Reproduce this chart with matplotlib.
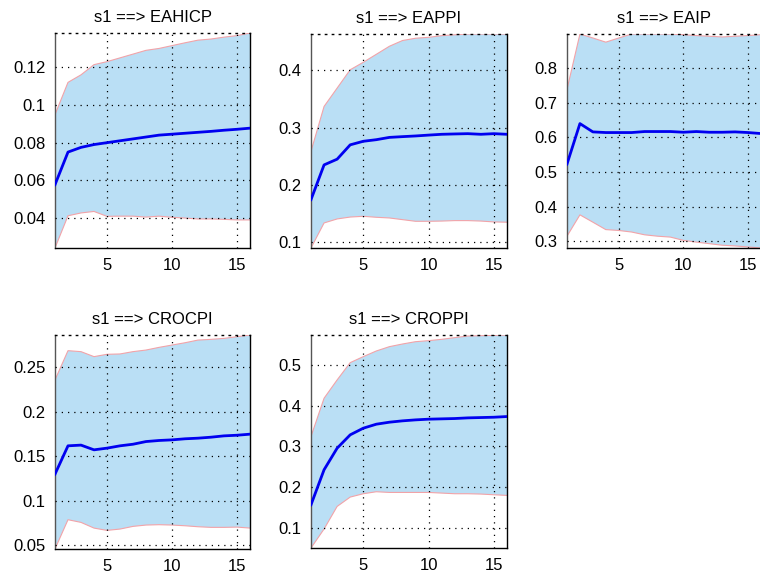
import matplotlib
matplotlib.use("Agg")
import matplotlib.pyplot as plt
from matplotlib.ticker import FormatStrFormatter
import numpy as np

plt.rcParams['font.family'] = ['Liberation Sans', 'DejaVu Sans']

horizons = list(range(1, 17))
titles = ["s1 ==> EAHICP", "s1 ==> EAPPI", "s1 ==> EAIP", "s1 ==> CROCPI", "s1 ==> CROPPI"]

eahicp_med = [0.0577, 0.0750, 0.0775, 0.0790, 0.0800, 0.0810, 0.0820, 0.0830, 0.0840, 0.0845,
              0.0850, 0.0855, 0.0860, 0.0866, 0.0871, 0.0877]
eahicp_up = [0.0949, 0.1120, 0.1160, 0.1214, 0.1230, 0.1250, 0.1270, 0.1290, 0.1300, 0.1315,
             0.1330, 0.1344, 0.1350, 0.1360, 0.1368, 0.1382]
eahicp_lo = [0.0241, 0.0412, 0.0427, 0.0435, 0.0409, 0.0410, 0.0410, 0.0405, 0.0410, 0.0404,
             0.0400, 0.0395, 0.0395, 0.0393, 0.0390, 0.0390]

eappi_med = [0.1744, 0.2350, 0.2450, 0.2700, 0.2762, 0.2790, 0.2830, 0.2843, 0.2855, 0.2870,
             0.2884, 0.2890, 0.2895, 0.2884, 0.2895, 0.2884]
eappi_up = [0.2587, 0.3370, 0.3690, 0.4010, 0.4140, 0.4280, 0.4420, 0.4520, 0.4560, 0.4576,
            0.4605, 0.4620, 0.4634, 0.4634, 0.4634, 0.4634]
eappi_lo = [0.0900, 0.1337, 0.1407, 0.1440, 0.1453, 0.1436, 0.1424, 0.1395, 0.1366, 0.1366,
            0.1370, 0.1378, 0.1378, 0.1370, 0.1355, 0.1350]

eaip_med = [0.5228, 0.6394, 0.6155, 0.6136, 0.6136, 0.6136, 0.6165, 0.6165, 0.6165, 0.6145,
            0.6165, 0.6145, 0.6145, 0.6155, 0.6136, 0.6107]
eaip_up = [0.7379, 0.8975, 0.8860, 0.8740, 0.8860, 0.8975, 0.8975, 0.8975, 0.8975, 0.8956,
           0.8930, 0.8910, 0.8890, 0.8910, 0.8930, 0.8956]
eaip_lo = [0.3150, 0.3765, 0.3554, 0.3340, 0.3315, 0.3270, 0.3190, 0.3150, 0.3124, 0.3030,
           0.2980, 0.2935, 0.2890, 0.2870, 0.2840, 0.2810]

crocpi_med = [0.1300, 0.1618, 0.1626, 0.1573, 0.1592, 0.1618, 0.1636, 0.1666, 0.1678, 0.1685,
              0.1697, 0.1704, 0.1715, 0.1730, 0.1737, 0.1749]
crocpi_up = [0.2358, 0.2687, 0.2676, 0.2620, 0.2646, 0.2650, 0.2676, 0.2694, 0.2724, 0.2750,
             0.2776, 0.2806, 0.2814, 0.2825, 0.2844, 0.2863]
crocpi_lo = [0.0459, 0.0788, 0.0758, 0.0694, 0.0668, 0.0683, 0.0713, 0.0728, 0.0732, 0.0728,
             0.0720, 0.0709, 0.0702, 0.0702, 0.0705, 0.0694]

croppi_med = [0.1570, 0.2429, 0.2959, 0.3286, 0.3449, 0.3547, 0.3596, 0.3629, 0.3653, 0.3670,
              0.3678, 0.3686, 0.3702, 0.3710, 0.3718, 0.3735]
croppi_up = [0.3245, 0.4184, 0.4633, 0.5057, 0.5204, 0.5343, 0.5449, 0.5514, 0.5571, 0.5596,
             0.5629, 0.5670, 0.5710, 0.5718, 0.5727, 0.5735]
croppi_lo = [0.0510, 0.0976, 0.1530, 0.1759, 0.1841, 0.1890, 0.1873, 0.1873, 0.1873, 0.1873,
             0.1857, 0.1841, 0.1841, 0.1833, 0.1816, 0.1800]

yticks = [
    [0.04, 0.06, 0.08, 0.10, 0.12],
    [0.1, 0.2, 0.3, 0.4],
    [0.3, 0.4, 0.5, 0.6, 0.7, 0.8],
    [0.05, 0.10, 0.15, 0.20, 0.25],
    [0.1, 0.2, 0.3, 0.4, 0.5],
]
xticks = [5, 10, 15]

series = [
    (eahicp_med, eahicp_up, eahicp_lo),
    (eappi_med, eappi_up, eappi_lo),
    (eaip_med, eaip_up, eaip_lo),
    (crocpi_med, crocpi_up, crocpi_lo),
    (croppi_med, croppi_up, croppi_lo),
]

W, H = 760, 579
# pixel boxes: left, right, top, bottom
boxes = [
    (55, 250, 33, 248),
    (311, 507, 34, 248),
    (567, 761, 34, 248),
    (55, 250, 335, 549),
    (311, 507, 335, 548),
]

fig = plt.figure(figsize=(W / 100, H / 100), dpi=100)
fill_col = '#BADFF5'
edge_col = '#F2A3A8'
dots = (0, (1, 4))

for i, ((med, up, lo), box) in enumerate(zip(series, boxes)):
    l, r, t, b = box
    ax = fig.add_axes([l / W, 1 - b / H, (r - l) / W, (b - t) / H])
    ax.fill_between(horizons, lo, up, facecolor=fill_col, edgecolor='none', zorder=1)
    ax.plot(horizons, up, color=edge_col, lw=0.8, zorder=2)
    ax.plot(horizons, lo, color=edge_col, lw=0.8, zorder=2)
    ax.plot(horizons, med, color='#0000F0', lw=2.0, zorder=3)
    ax.set_xlim(1, 16)
    ax.set_ylim(min(lo), max(up))
    ax.set_xticks(xticks)
    ax.set_yticks(yticks[i])
    ax.yaxis.set_major_formatter(FormatStrFormatter('%g'))
    ax.grid(True, color='black', linestyle=dots, linewidth=0.9, zorder=4)
    ax.set_axisbelow(False)
    ax.tick_params(length=0, labelsize=12, pad=7, colors='black')
    ax.spines['left'].set_color('#555555')
    ax.spines['top'].set_color('black')
    ax.spines['top'].set_linestyle(dots)
    ax.spines['right'].set_color('black')
    ax.spines['bottom'].set_color('black')
    for s in ax.spines.values():
        s.set_linewidth(1.0)
    ax.set_title(titles[i], fontsize=12, pad=8)

fig.savefig('out.png', dpi=100)
